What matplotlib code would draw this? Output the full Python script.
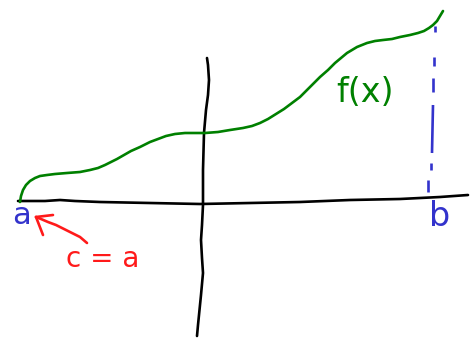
import matplotlib.pyplot as plt

# stroke points in pixel space (x right, y down)
curve_x = [20, 21, 23, 26, 30, 35, 40, 47, 55, 67, 80, 90, 98, 105, 111, 117, 124, 131, 140, 150, 158, 166,
           175, 185, 195, 205, 218, 230, 243, 252, 260, 268, 276, 284, 292, 300, 310, 320, 328, 335, 341,
           347, 352, 357, 362, 367, 375, 383, 392, 400, 410, 418, 424, 429, 433, 437, 440, 443]
curve_y = [202, 196, 190, 185, 181, 178, 176, 175, 174, 173, 172, 170, 168, 165, 162, 159, 155, 151, 147, 142,
           139, 136, 134, 133, 133, 133, 132, 130, 128, 126, 123, 119, 114, 109, 103, 97, 87, 77, 70, 63, 58,
           53, 50, 47, 45, 43, 41, 40, 39, 37, 35, 33, 31, 28, 25, 21, 16, 11]

xaxis_x = [18, 30, 45, 60, 75, 100, 150, 200, 250, 300, 350, 400, 440, 468]
xaxis_y = [201, 201, 201, 200, 201, 202, 203, 204, 203, 202, 200, 199, 197, 195]

yaxis_x = [207, 208, 209, 208, 206, 204, 203, 203, 202, 201, 202, 203, 201, 199, 198, 197]
yaxis_y = [58, 65, 80, 95, 110, 133, 170, 205, 225, 240, 258, 273, 295, 315, 325, 336]

# dashes of the line at b: (x0, y0, x1, y1)
b_dashes = [(435, 26, 435, 32), (434, 57, 434, 66), (433, 78, 433, 92),
            (433, 105, 432, 153), (431, 163, 431, 170), (428, 180, 428, 192)]

arrow_x = [87, 80, 72, 64, 56, 48, 41, 36]
arrow_y = [243, 237, 233, 229, 225, 222, 219, 217]

labels = [("a", 22, 215, "#3333cc", 22), ("b", 440, 217, "#3333cc", 24),
          ("c = a", 103, 259, "#ff1a1a", 20), ("f(x)", 365, 92, "#008000", 24)]

fig = plt.figure(figsize=(4.7, 3.39), dpi=100)
ax = fig.add_axes([0, 0, 1, 1])
ax.set_xlim(0, 470)
ax.set_ylim(339, 0)
ax.axis("off")

stroke = dict(lw=1.9, solid_capstyle="round", solid_joinstyle="round")

ax.plot(xaxis_x, xaxis_y, color="black", **stroke)
ax.plot(yaxis_x, yaxis_y, color="black", **stroke)
ax.plot(curve_x, curve_y, color="#008000", **stroke)

for x0, y0, x1, y1 in b_dashes:
    ax.plot([x0, x1], [y0, y1], color="#3333cc", lw=1.9, solid_capstyle="butt")

ax.plot(arrow_x, arrow_y, color="#ff1a1a", **stroke)
ax.plot([arrow_x[-1], 53], [arrow_y[-1], 215], color="#ff1a1a", **stroke)
ax.plot([arrow_x[-1], 43], [arrow_y[-1], 235], color="#ff1a1a", **stroke)

for text, x, y, col, size in labels:
    ax.text(x, y, text, color=col, fontsize=size, ha="center", va="center",
            family="DejaVu Sans")

fig.savefig("out.png", dpi=100)
